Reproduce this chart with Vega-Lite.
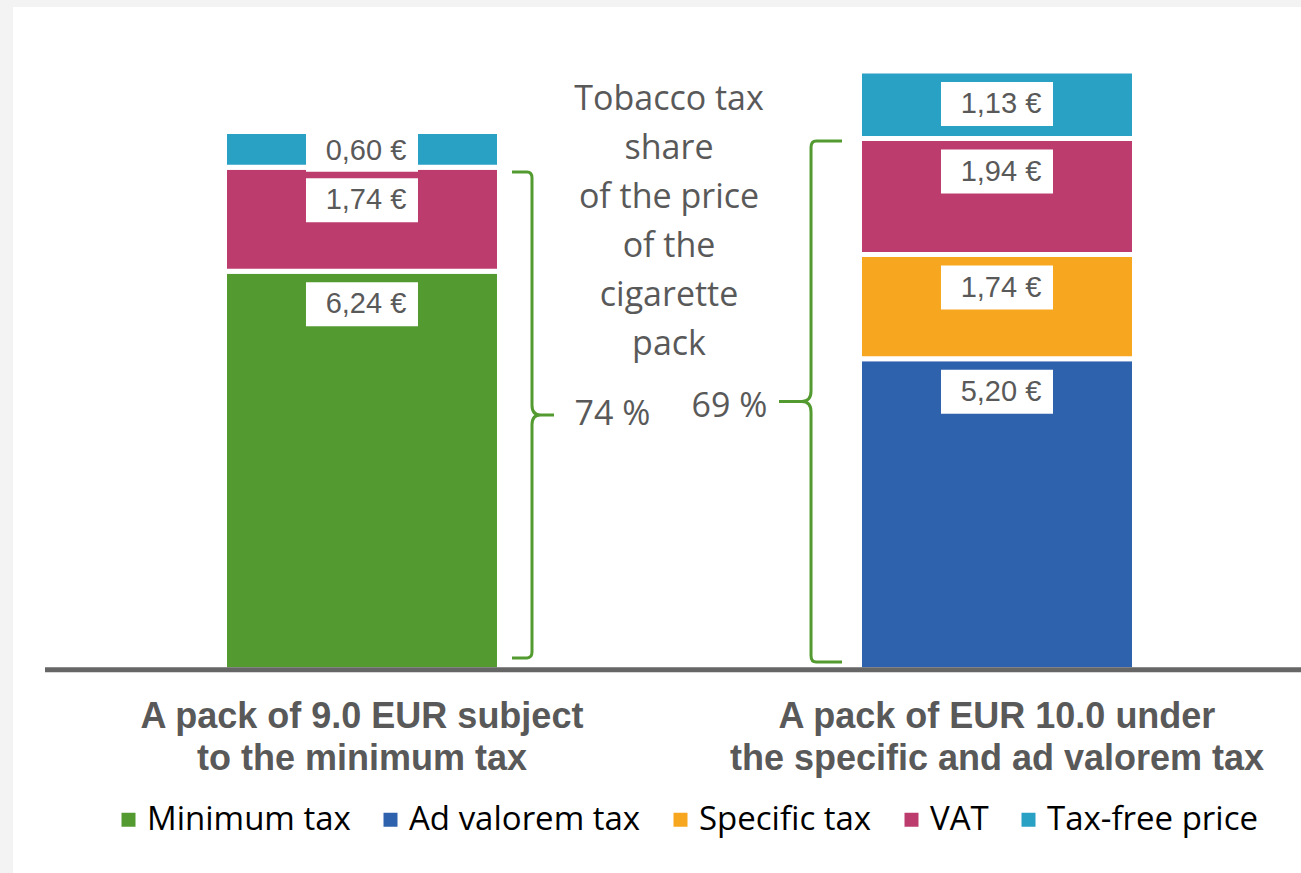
{
  "$schema": "https://vega.github.io/schema/vega-lite/v6.json",
  "width": 1288,
  "height": 866,
  "autosize": "none",
  "padding": {"left": 13, "top": 7, "right": 0, "bottom": 0},
  "background": "#f3f3f3",
  "config": {"view": {"stroke": null, "fill": "#ffffff"}},
  "resolve": {"scale": {"x": "independent"}},
  "layer": [
    {
      "data": {
        "values": [
          {"pack": "A pack of 9.0 EUR subject\nto the minimum tax", "tax": "Minimum tax", "order": 1, "value": 6.66, "label": "6,24 €"},
          {"pack": "A pack of 9.0 EUR subject\nto the minimum tax", "tax": "VAT", "order": 4, "value": 1.74, "label": "1,74 €"},
          {"pack": "A pack of 9.0 EUR subject\nto the minimum tax", "tax": "Tax-free price", "order": 5, "value": 0.60, "label": "0,60 €"},
          {"pack": "A pack of EUR 10.0 under\nthe specific and ad valorem tax", "tax": "Ad valorem tax", "order": 2, "value": 5.20, "label": "5,20 €"},
          {"pack": "A pack of EUR 10.0 under\nthe specific and ad valorem tax", "tax": "Specific tax", "order": 3, "value": 1.74, "label": "1,74 €"},
          {"pack": "A pack of EUR 10.0 under\nthe specific and ad valorem tax", "tax": "VAT", "order": 4, "value": 1.94, "label": "1,94 €"},
          {"pack": "A pack of EUR 10.0 under\nthe specific and ad valorem tax", "tax": "Tax-free price", "order": 5, "value": 1.13, "label": "1,13 €"}
        ]
      },
      "transform": [
        {"stack": "value", "groupby": ["pack"], "sort": [{"field": "order", "order": "ascending"}], "as": ["y0", "y1"]}
      ],
      "encoding": {
        "x": {
          "field": "pack",
          "type": "nominal",
          "sort": ["A pack of 9.0 EUR subject\nto the minimum tax", "A pack of EUR 10.0 under\nthe specific and ad valorem tax"],
          "scale": {"paddingInner": 0.56693, "paddingOuter": 0.29764, "align": 0.5595},
          "axis": {
            "title": null,
            "orient": "bottom",
            "offset": -203,
            "domain": false,
            "ticks": false,
            "tickSize": 0,
            "labelAngle": 0,
            "labelFont": "Liberation Sans",
            "labelFontSize": 36,
            "labelFontWeight": "bold",
            "labelColor": "#595959",
            "labelLineHeight": 42,
            "labelPadding": 29,
            "labelLimit": 800,
            "labelBaseline": "top",
            "labelExpr": "split(datum.label, '\\n')"
          }
        },
        "y": {"field": "y1", "type": "quantitative", "scale": {"domain": [-3.4, 11.08], "nice": false, "zero": false}, "axis": null}
      },
      "layer": [
        {
          "mark": {"type": "bar", "stroke": "white", "strokeWidth": 5},
          "encoding": {
            "y2": {"field": "y0"},
            "color": {
              "field": "tax",
              "type": "nominal",
              "scale": {
                "domain": ["Minimum tax", "Ad valorem tax", "Specific tax", "VAT", "Tax-free price"],
                "range": ["#539b30", "#2f62ad", "#f7a71f", "#bd3c6e", "#28a1c4"]
              },
              "legend": {
                "orient": "none",
                "legendX": 99,
                "legendY": 796,
                "direction": "horizontal",
                "title": null,
                "symbolType": "square",
                "symbolSize": 196,
                "symbolStrokeWidth": 0,
                "labelFont": "Open Sans",
                "labelFontSize": 33,
                "labelColor": "#000000",
                "labelOffset": 2,
                "columnPadding": 23,
                "labelLimit": 400,
                "padding": 0
              }
            }
          }
        },
        {
          "transform": [{"filter": "datum.value >= 1"}],
          "mark": {"type": "point", "shape": "M-1,0.196L1,0.196L1,0.982L-1,0.982Z", "size": 12544, "filled": true, "fill": "#ffffff", "opacity": 1, "strokeWidth": 0}
        },
        {
          "transform": [{"filter": "datum.value < 1"}],
          "mark": {"type": "point", "shape": "M-1,-0.084L1,-0.084L1,0.72L-1,0.72Z", "size": 12544, "filled": true, "fill": "#ffffff", "opacity": 1, "strokeWidth": 0}
        },
        {
          "transform": [{"filter": "datum.value >= 1"}],
          "mark": {"type": "text", "dy": 33, "dx": 4, "font": "Liberation Sans", "fontSize": 29, "fill": "#595959", "baseline": "middle", "align": "center"},
          "encoding": {"text": {"field": "label"}}
        },
        {
          "transform": [{"filter": "datum.value < 1"}],
          "mark": {"type": "text", "dy": 19.5, "dx": 4, "font": "Liberation Sans", "fontSize": 29, "fill": "#595959", "baseline": "middle", "align": "center"},
          "encoding": {"text": {"field": "label"}}
        }
      ]
    },
    {
      "layer": [
        {
          "data": {"values": [{"from": -0.4992, "to": 1.4787, "level": 0}]},
          "mark": {"type": "rule", "stroke": "#666666", "strokeWidth": 5},
          "encoding": {
            "x": {"field": "from", "type": "quantitative", "scale": {"domain": [-0.5496, 1.4787], "nice": false, "zero": false}, "axis": null},
            "x2": {"field": "to"},
            "y": {"field": "level", "type": "quantitative", "scale": {"domain": [-3.4, 11.08], "nice": false, "zero": false}, "axis": null}
          }
        },
        {
          "data": {"values": [{"x": 0.4835, "y": 9.525, "lines": ["Tobacco tax", "share", "of the price", "of the", "cigarette", "pack"]}]},
          "mark": {"type": "text", "font": "Open Sans", "fontSize": 34, "fill": "#595959", "lineHeight": 49, "align": "center", "baseline": "middle"},
          "encoding": {
            "x": {"field": "x", "type": "quantitative", "scale": {"domain": [-0.5496, 1.4787], "nice": false, "zero": false}, "axis": null},
            "y": {"field": "y", "type": "quantitative", "scale": {"domain": [-3.4, 11.08], "nice": false, "zero": false}, "axis": null},
            "text": {"field": "lines"}
          }
        },
        {
          "data": {"values": [{"x": 0.3945, "y": 4.259, "t": "74 %"}, {"x": 0.5787, "y": 4.392, "t": "69 %"}]},
          "mark": {"type": "text", "font": "Open Sans", "fontSize": 34, "fill": "#595959", "align": "center", "baseline": "middle"},
          "encoding": {
            "x": {"field": "x", "type": "quantitative", "scale": {"domain": [-0.5496, 1.4787], "nice": false, "zero": false}, "axis": null},
            "y": {"field": "y", "type": "quantitative", "scale": {"domain": [-3.4, 11.08], "nice": false, "zero": false}, "axis": null},
            "text": {"field": "t"}
          }
        },
        {
          "data": {"values": [{"x": 0.2677, "y": 4.259}]},
          "mark": {"type": "point", "shape": "M-0.0823,-1L-0.02,-1Q0,-1 0,-0.975L0,-0.04Q0,0 0.035,0L0.0905,0M0.035,0Q0,0 0,0.04L0,0.975Q0,1 -0.02,1L-0.0823,1", "size": 236196, "filled": false, "stroke": "#539b30", "strokeWidth": 3, "opacity": 1},
          "encoding": {
            "x": {"field": "x", "type": "quantitative", "scale": {"domain": [-0.5496, 1.4787], "nice": false, "zero": false}, "axis": null},
            "y": {"field": "y", "type": "quantitative", "scale": {"domain": [-3.4, 11.08], "nice": false, "zero": false}, "axis": null}
          }
        },
        {
          "data": {"values": [{"x": 0.7071, "y": 4.484}]},
          "mark": {"type": "point", "shape": "M0.119,-1L0.02,-1Q0,-1 0,-0.975L0,-0.04Q0,0 -0.035,0L-0.123,0M-0.035,0Q0,0 0,0.04L0,0.975Q0,1 0.02,1L0.119,1", "size": 271441, "filled": false, "stroke": "#539b30", "strokeWidth": 3, "opacity": 1},
          "encoding": {
            "x": {"field": "x", "type": "quantitative", "scale": {"domain": [-0.5496, 1.4787], "nice": false, "zero": false}, "axis": null},
            "y": {"field": "y", "type": "quantitative", "scale": {"domain": [-3.4, 11.08], "nice": false, "zero": false}, "axis": null}
          }
        }
      ]
    }
  ]
}
